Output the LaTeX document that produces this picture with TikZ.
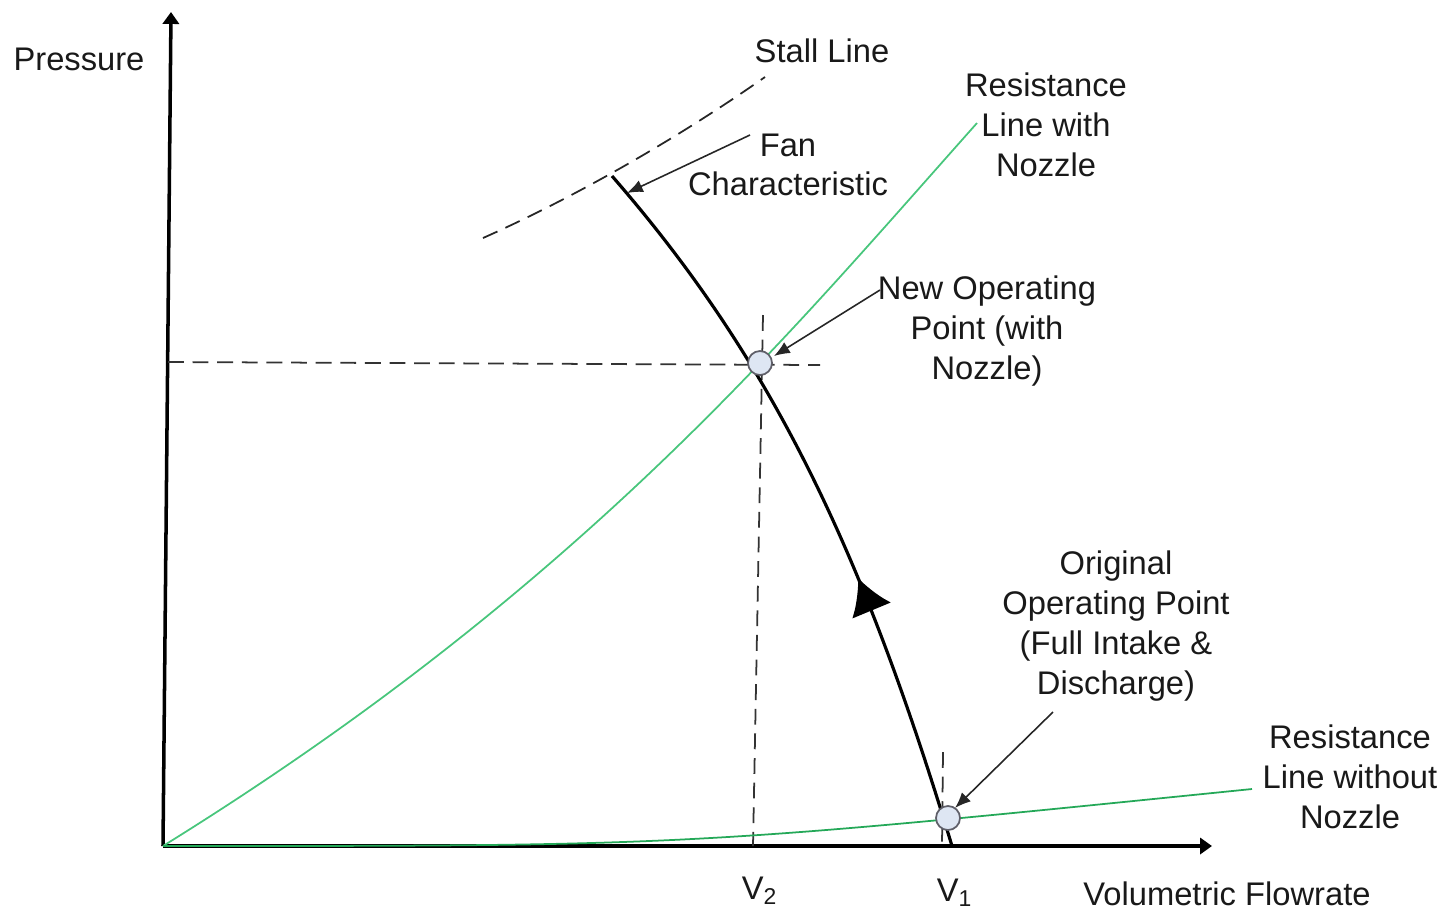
\documentclass[tikz,border=0pt]{standalone}
\usepackage{fontspec}
\setmainfont{Liberation Sans}
\usetikzlibrary{arrows.meta,decorations.markings}
\definecolor{resgreen}{RGB}{72,198,124}
\definecolor{resgreendark}{RGB}{36,168,88}
\definecolor{opfill}{RGB}{222,230,243}
\definecolor{opdraw}{RGB}{95,95,105}
\begin{document}
\begin{tikzpicture}[x=0.01cm,y=-0.01cm,
  lbl/.style={font=\fontsize{9.3}{11.3}\selectfont, align=center, inner sep=0pt, text=black!90},
  axis/.style={line width=1pt, -{Triangle[length=3.4pt,width=4.6pt]}},
  guide/.style={line width=0.5pt, dash pattern=on 4.5pt off 2.5pt, black!80},
  rescurve/.style={line width=0.5pt, resgreen},
  fancurve/.style={line width=0.9pt},
  leader/.style={line width=0.45pt, black!85, -{Latex[length=4.5pt,width=3.6pt]}},
  oppoint/.style={circle, draw=opdraw, fill=opfill, line width=0.5pt, minimum size=0.24cm, inner sep=0pt},
]
\useasboundingbox (0,0) rectangle (1445,911);

% axes
\coordinate (O) at (163,846);
\coordinate (ytop) at (171,12);
\coordinate (xend) at (1212,846);
\draw[axis] (O) -- (ytop);
\draw[axis] (O) -- (xend);

% guide lines through the operating points
\coordinate (hstart) at (168,362);
\coordinate (hend) at (820,365);
\coordinate (v2top) at (763,315);
\coordinate (v2bot) at (753,846);
\coordinate (v1top) at (943,752);
\coordinate (v1bot) at (942,846);
\draw[guide] (hstart) -- (hend);
\draw[guide] (v2top) -- (v2bot);
\draw[guide] (v1top) -- (v1bot);

% stall line
\coordinate (stallA) at (483,238);
\coordinate (stallB) at (765,77);
\draw[guide, black!85] (stallA) .. controls (573,198) and (675,140) .. (stallB);

% resistance curves
\coordinate (rwEnd) at (977,123);
\coordinate (rnEnd) at (1252,789);
\draw[rescurve] (O) .. controls (363,722) and (560,573) .. (760,363)
  .. controls (832,288) and (905,204) .. (rwEnd);
\draw[rescurve, resgreendark] (O) .. controls (690,846) .. (rnEnd);

% fan characteristic, traversed towards lower flow
\coordinate (fanBot) at (952,846);
\coordinate (fanTop) at (612,176);
\draw[fancurve, decoration={markings,
    mark=at position 0.375 with {\arrow{Latex[length=10pt,width=12pt]}}},
    postaction={decorate}]
  (fanBot) .. controls (862,549) and (772,360) .. (fanTop);

% operating points
\node[oppoint] (np) at (760,363) {};
\node[oppoint] (op) at (948,818) {};

% labels
\node[lbl] (pressure) at (79,59) {Pressure};
\node[lbl] (stall) at (822,51) {Stall Line};
\node[lbl] (rwith) at (1046,125) {Resistance\\Line with\\Nozzle};
\node[lbl] (fan) at (788,165) {Fan\\Characteristic};
\node[lbl] (newop) at (987,331) {New Operating\\Point (with\\Nozzle)};
\node[lbl] (origop) at (1116,626) {Original\\Operating Point\\(Full Intake \&\\Discharge)};
\node[lbl] (rwithout) at (1350,777) {Resistance\\Line without\\Nozzle};
\node[lbl] (vtwo) at (760,891) {V\textsubscript{2}};
\node[lbl] (vone) at (955,893) {V\textsubscript{1}};
\node[lbl] (flow) at (1227,894) {Volumetric Flowrate};

% leaders
\coordinate (fanlead) at (750,135);
\coordinate (fantip) at (627,193);
\coordinate (newlead) at (880,290);
\coordinate (newtip) at (774,356);
\coordinate (origlead) at (1053,712);
\coordinate (origtip) at (955,808);
\draw[leader] (fanlead) -- (fantip);
\draw[leader] (newlead) -- (newtip);
\draw[leader] (origlead) -- (origtip);
\end{tikzpicture}
\end{document}
